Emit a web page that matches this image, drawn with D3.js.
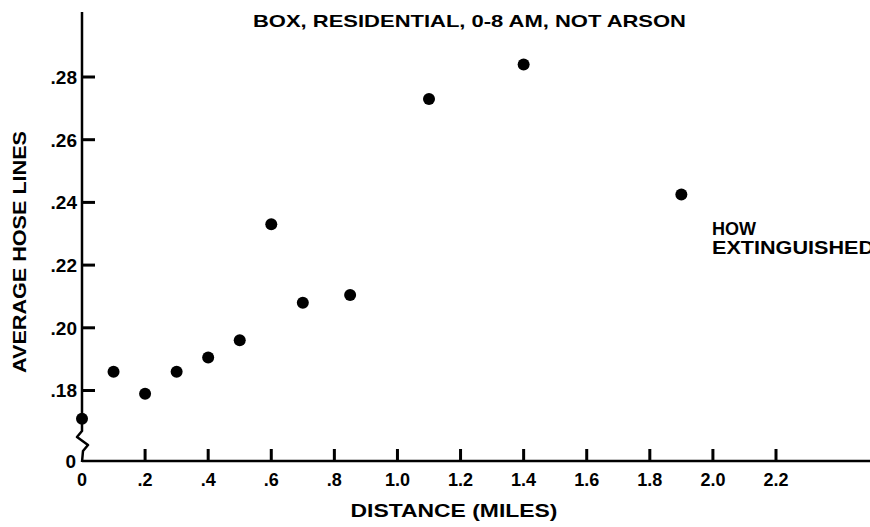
<!DOCTYPE html>
<html>
<head>
<meta charset="utf-8">
<script src="https://cdn.jsdelivr.net/npm/d3@7"></script>
<style>
  body { margin: 0; background: #fff; }
  text { font-family: "Liberation Sans", Arial, sans-serif; font-weight: bold; fill: #000; }
</style>
</head>
<body>
<div id="chart"></div>
<script>
// distance bins (miles) and average hose lines
const distance = [0, 0.1, 0.2, 0.3, 0.4, 0.5, 0.6, 0.7, 0.85, 1.1, 1.4, 1.9];
const hoseLines = [0.171, 0.186, 0.179, 0.186, 0.1905, 0.196, 0.233, 0.208, 0.2105, 0.273, 0.284, 0.2425];

const xTicks = [0, 0.2, 0.4, 0.6, 0.8, 1.0, 1.2, 1.4, 1.6, 1.8, 2.0, 2.2];
const xTickLabels = ["0", ".2", ".4", ".6", ".8", "1.0", "1.2", "1.4", "1.6", "1.8", "2.0", "2.2"];
const yTicks = [0.18, 0.20, 0.22, 0.24, 0.26, 0.28];
const yTickLabels = [".18", ".20", ".22", ".24", ".26", ".28"];

const width = 870, height = 527;
const x0 = 82, yBase = 461;

let svg = d3.select("#chart")
  .append("svg")
  .attr("width", width)
  .attr("height", height);

let x = d3.scaleLinear().domain([0, 2.2]).range([x0, 776]);
let y = d3.scaleLinear().domain([0.18, 0.28]).range([390.5, 77]);

// lignes d'axes, avec la coupure en zigzag
svg.append("line")
  .attr("x1", x0).attr("x2", width)
  .attr("y1", yBase).attr("y2", yBase)
  .attr("stroke", "#000").attr("stroke-width", 2.5);

svg.append("path")
  .attr("d", "M" + x0 + ",12 L" + x0 + ",431 L" + (x0 - 5) + ",437 L" + (x0 + 6) + ",445 L" + (x0 + 1) + ",451 L" + x0 + "," + (yBase + 1))
  .attr("fill", "none")
  .attr("stroke", "#000")
  .attr("stroke-width", 2.5)
  .attr("stroke-linejoin", "round");

// ticks : vers le haut pour X (le 0 est sur l'angle), vers l'intérieur pour Y
svg.append("g")
  .selectAll("rect")
  .data(xTicks.slice(1))
  .enter()
  .append("rect")
  .attr("x", d => x(d) - 1.5)
  .attr("y", yBase - 12)
  .attr("width", 3)
  .attr("height", 12)
  .attr("fill", "#000");

svg.append("g")
  .selectAll("rect")
  .data(yTicks)
  .enter()
  .append("rect")
  .attr("x", x0)
  .attr("y", d => y(d) - 1.5)
  .attr("width", 13)
  .attr("height", 3)
  .attr("fill", "#000");

svg.append("g")
  .selectAll("text")
  .data(xTicks)
  .enter()
  .append("text")
  .attr("x", d => x(d))
  .attr("y", yBase + 25)
  .attr("text-anchor", "middle")
  .attr("font-size", 18)
  .text((d, i) => xTickLabels[i]);

svg.append("g")
  .selectAll("text")
  .data(yTicks)
  .enter()
  .append("text")
  .attr("x", x0 - 5)
  .attr("y", d => y(d))
  .attr("dy", "0.36em")
  .attr("text-anchor", "end")
  .attr("font-size", 19)
  .text((d, i) => yTickLabels[i]);

svg.append("text")
  .attr("x", x0 - 6).attr("y", yBase)
  .attr("dy", "0.35em")
  .attr("text-anchor", "end")
  .attr("font-size", 19)
  .text("0");

// points
svg.append("g")
  .selectAll("circle")
  .data(distance)
  .enter()
  .append("circle")
  .attr("cx", d => x(d))
  .attr("cy", (d, i) => y(hoseLines[i]))
  .attr("r", 6)
  .attr("fill", "#000");

// textes
svg.append("text")
  .attr("x", 253).attr("y", 27)
  .attr("font-size", 17)
  .attr("textLength", 433)
  .attr("lengthAdjust", "spacingAndGlyphs")
  .text("BOX, RESIDENTIAL, 0-8 AM, NOT ARSON");

svg.append("text")
  .attr("transform", "translate(26,252) rotate(-90)")
  .attr("text-anchor", "middle")
  .attr("font-size", 18)
  .attr("textLength", 242)
  .attr("lengthAdjust", "spacingAndGlyphs")
  .text("AVERAGE HOSE LINES");

svg.append("text")
  .attr("x", 454).attr("y", 517)
  .attr("text-anchor", "middle")
  .attr("font-size", 18)
  .attr("textLength", 207)
  .attr("lengthAdjust", "spacingAndGlyphs")
  .text("DISTANCE (MILES)");

svg.append("text")
  .attr("x", 712).attr("y", 235)
  .attr("font-size", 18)
  .text("HOW");

svg.append("text")
  .attr("x", 712).attr("y", 254)
  .attr("font-size", 18)
  .attr("textLength", 162)
  .attr("lengthAdjust", "spacingAndGlyphs")
  .text("EXTINGUISHED");
</script>
</body>
</html>
